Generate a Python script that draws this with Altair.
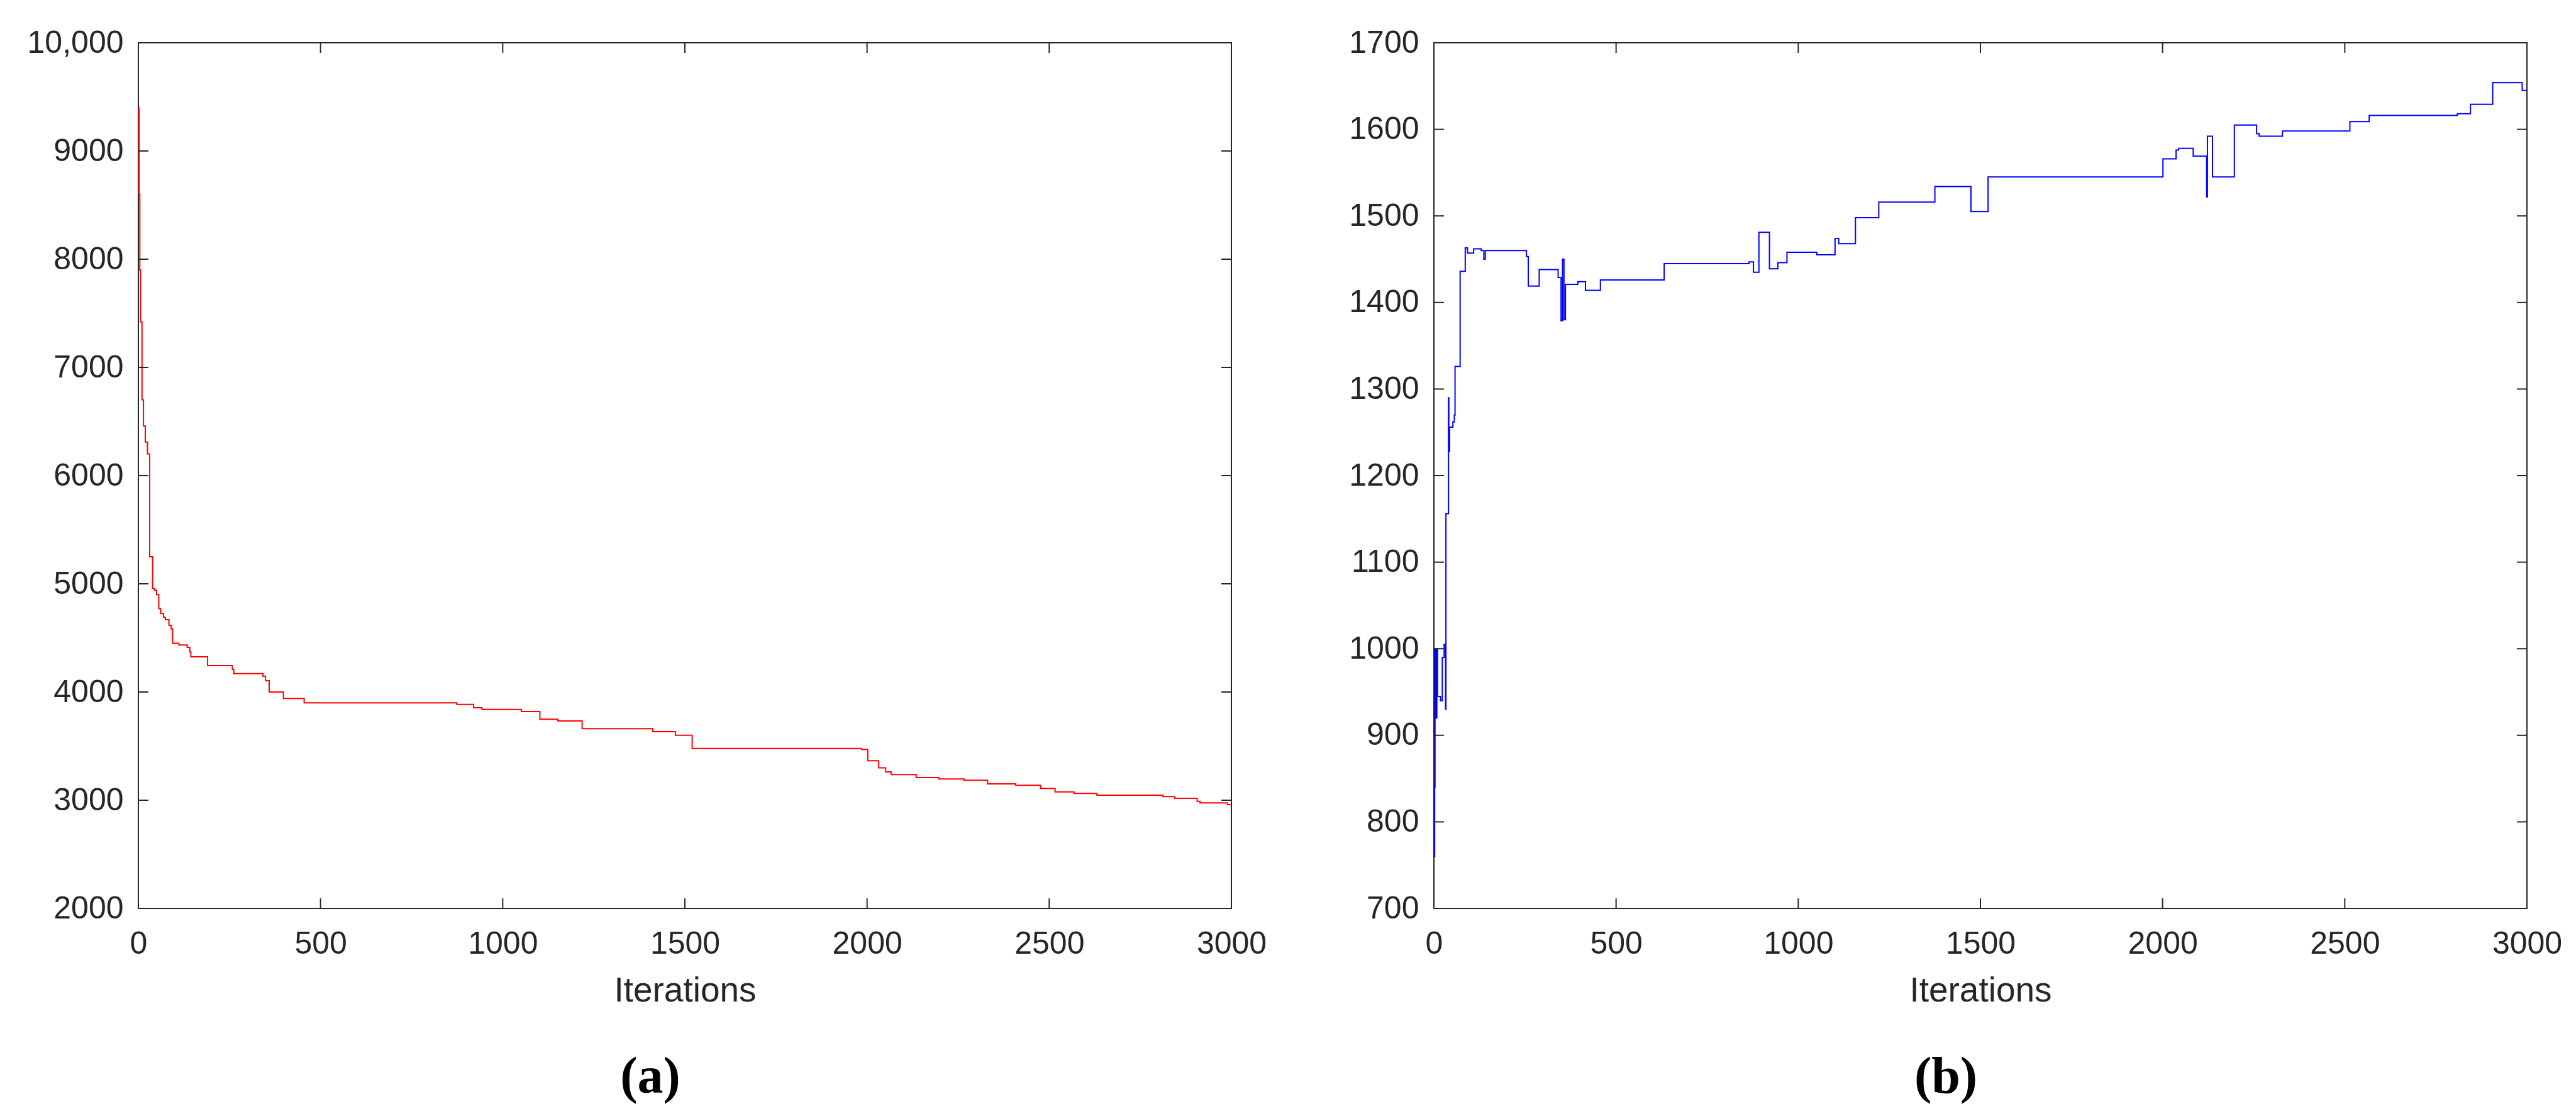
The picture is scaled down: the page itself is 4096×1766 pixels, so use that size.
import altair as alt
import pandas as pd

# ---- Panel (a): red, decreasing ----
iter_a = [0, 2, 4, 6, 10, 14, 19, 25, 31, 39, 45, 50, 56, 61, 69, 74, 84, 90, 94,
          111, 134, 141, 144, 190, 258, 262, 342, 349, 359, 398, 455, 874, 920,
          943, 1051, 1102, 1151, 1218, 1412, 1474, 1520, 1985, 2002, 2032, 2051,
          2066, 2135, 2197, 2266, 2331, 2408, 2476, 2516, 2568, 2631, 2812, 2844,
          2906, 2914, 2989, 3000]
val_a = [9400, 8600, 7900, 7420, 6700, 6460, 6310, 6200, 5250, 4956, 4940, 4900,
         4770, 4725, 4690, 4668, 4617, 4583, 4450, 4435, 4413, 4370, 4326, 4244,
         4210, 4170, 4145, 4105, 4000, 3940, 3900, 3885, 3855, 3838, 3820, 3748,
         3732, 3662, 3634, 3600, 3478, 3470, 3365, 3300, 3262, 3237, 3210, 3196,
         3184, 3151, 3138, 3109, 3077, 3062, 3047, 3033, 3017, 2990, 2975, 2959,
         2959]

# ---- Panel (b): blue, increasing ----
iter_b = [0, 2, 3, 6, 8, 10, 18, 23, 28, 32, 33, 40, 41, 43, 52, 56, 58, 72, 86,
          92, 109, 130, 137, 141, 254, 259, 289, 341, 349, 353, 357, 361, 395,
          416, 457, 632, 865, 877, 892, 921, 944, 969, 1051, 1101, 1111, 1157,
          1221, 1375, 1474, 1521, 2001, 2037, 2044, 2084, 2121, 2123, 2137, 2197,
          2258, 2265, 2329, 2514, 2567, 2809, 2845, 2906, 2987, 3000]
val_b = [760, 840, 1000, 920, 1000, 945, 940, 990, 1005, 930, 1156, 1290, 1228,
         1256, 1262, 1270, 1326, 1436, 1463, 1457, 1462, 1460, 1450, 1460, 1453,
         1419, 1438, 1429, 1379, 1450, 1380, 1421, 1424, 1414, 1426, 1445, 1447,
         1435, 1481, 1439, 1446, 1458, 1455, 1474, 1468, 1498, 1516, 1534, 1505,
         1545, 1566, 1576, 1578, 1569, 1522, 1592, 1545, 1605, 1595, 1592, 1598,
         1609, 1616, 1618, 1629, 1654, 1645, 1645]

x_ticks = [0, 500, 1000, 1500, 2000, 2500, 3000]
y_ticks_a = [2000, 3000, 4000, 5000, 6000, 7000, 8000, 9000, 10000]
y_ticks_b = [700, 800, 900, 1000, 1100, 1200, 1300, 1400, 1500, 1600, 1700]

W, H = 1738, 1376
TICK = 16
AXC = "#262626"
FONT = "Liberation Sans"


def panel(iters, vals, color, ydom, yticks, caption):
    df = pd.DataFrame({"iter": iters, "val": vals})
    xs = alt.Scale(domain=[0, 3000], nice=False, zero=False)
    ys = alt.Scale(domain=ydom, nice=False, zero=False)
    xaxis = alt.Axis(
        values=x_ticks, format="d", title="Iterations", ticks=False,
        domain=False, grid=False, labelFlush=False, labelPadding=31,
        labelFontSize=50, labelFont=FONT, labelColor=AXC,
        titleFontSize=55, titleFont=FONT, titleColor=AXC,
        titleFontWeight="normal", titlePadding=23)
    yaxis = alt.Axis(
        values=yticks, format="d",
        labelExpr="datum.value >= 10000 ? format(datum.value, ',') : datum.label",
        title=None, ticks=False, domain=False, grid=False, labelPadding=24,
        labelFontSize=50, labelFont=FONT, labelColor=AXC)

    line = alt.Chart(df).mark_line(
        color=color, strokeWidth=2, interpolate="step-after"
    ).encode(
        x=alt.X("iter:Q", scale=xs, axis=xaxis, title="Iterations"),
        y=alt.Y("val:Q", scale=ys, axis=yaxis, title=None),
    )

    xt = pd.DataFrame({"t": x_ticks})
    yt = pd.DataFrame({"v": yticks})
    tick_style = dict(color=AXC, strokeWidth=2)
    xb = alt.Chart(xt).mark_rule(**tick_style).encode(
        x=alt.X("t:Q", scale=xs, axis=xaxis, title="Iterations"),
        y=alt.value(H), y2=alt.value(H - TICK))
    xtp = alt.Chart(xt).mark_rule(**tick_style).encode(
        x=alt.X("t:Q", scale=xs, axis=xaxis, title="Iterations"),
        y=alt.value(0), y2=alt.value(TICK))
    yl = alt.Chart(yt).mark_rule(**tick_style).encode(
        y=alt.Y("v:Q", scale=ys, axis=yaxis, title=None),
        x=alt.value(0), x2=alt.value(TICK))
    yr = alt.Chart(yt).mark_rule(**tick_style).encode(
        y=alt.Y("v:Q", scale=ys, axis=yaxis, title=None),
        x=alt.value(W - TICK), x2=alt.value(W))

    return alt.layer(line, xb, xtp, yl, yr).properties(
        width=W, height=H,
        title=alt.TitleParams(
            text=caption, orient="bottom", anchor="middle", frame="group",
            font="Liberation Serif", fontSize=82, fontWeight="bold",
            color="black", dx=-55, offset=70),
    )


left = panel(iter_a, val_a, "#FF0000", [2000, 10000], y_ticks_a, "(a)")
right = panel(iter_b, val_b, "#0000FF", [700, 1700], y_ticks_b, "(b)")

chart = alt.hconcat(left, right, spacing=322, bounds="flush").properties(
    padding={"left": 34, "top": 34, "right": 5, "bottom": 5},
    background="white",
).configure_view(stroke=AXC, strokeWidth=2)

chart.save("out.html", embed_options={"renderer": "svg", "actions": False})
